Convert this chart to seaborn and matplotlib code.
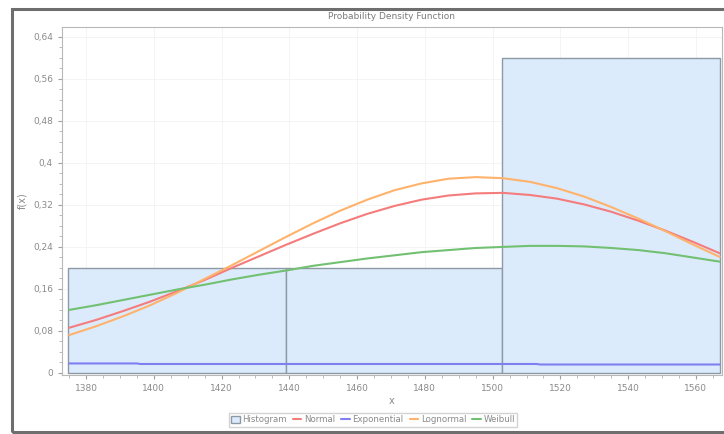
import matplotlib
matplotlib.use("Agg")
import matplotlib.pyplot as plt
from matplotlib.patches import Rectangle, Patch
from matplotlib.lines import Line2D
from matplotlib.ticker import MultipleLocator, FuncFormatter
import pandas as pd
import seaborn as sns

# histogram bins (edges) and bar heights
bin_edges = [1374.8, 1439.0, 1502.9, 1567.0]
bin_heights = [0.2, 0.2, 0.6]

# fitted density curves
x_pts = [1375, 1383, 1391, 1399, 1407, 1415, 1423, 1431, 1439, 1447, 1455, 1463, 1471,
         1479, 1487, 1495, 1503, 1511, 1519, 1527, 1535, 1543, 1551, 1559, 1567]
normal = [0.086, 0.101, 0.118, 0.136, 0.156, 0.177, 0.200, 0.222, 0.244, 0.265, 0.285,
          0.303, 0.318, 0.330, 0.338, 0.342, 0.343, 0.339, 0.332, 0.321, 0.307, 0.290,
          0.271, 0.250, 0.228]
lognormal = [0.072, 0.089, 0.108, 0.129, 0.153, 0.179, 0.205, 0.232, 0.259, 0.285, 0.309,
             0.330, 0.348, 0.361, 0.370, 0.373, 0.371, 0.364, 0.352, 0.336, 0.316, 0.294,
             0.270, 0.245, 0.221]
weibull = [0.120, 0.129, 0.139, 0.149, 0.159, 0.168, 0.178, 0.187, 0.195, 0.204, 0.211,
           0.218, 0.224, 0.230, 0.234, 0.238, 0.240, 0.242, 0.242, 0.241, 0.238, 0.234,
           0.228, 0.220, 0.212]
expo_x = [1375, 1395, 1396, 1513, 1514, 1567]
exponential = [0.018, 0.018, 0.017, 0.017, 0.016, 0.016]

colors = {"Normal": "#f47c7c", "Exponential": "#7f7ff2",
          "Lognormal": "#ffb26b", "Weibull": "#72c072"}

sns.set_style("white")
plt.rcParams["font.family"] = ["DejaVu Sans"]

fig = plt.figure(figsize=(7.24, 4.34), dpi=100)
ax = fig.add_axes([62 / 724, 1 - 375 / 434, 660 / 724, 348 / 434])

centers = [(a + b) / 2 for a, b in zip(bin_edges[:-1], bin_edges[1:])]
sns.histplot(x=centers, weights=bin_heights, bins=bin_edges, stat="count",
             color="#dcebfb", edgecolor="#8d99a4", linewidth=1.0, alpha=1.0, ax=ax)

rows = []
for name, vals in [("Normal", normal), ("Lognormal", lognormal), ("Weibull", weibull)]:
    rows += [(name, xv, yv) for xv, yv in zip(x_pts, vals)]
rows += [("Exponential", xv, yv) for xv, yv in zip(expo_x, exponential)]
df = pd.DataFrame(rows, columns=["dist", "x", "y"])
sns.lineplot(data=df, x="x", y="y", hue="dist", palette=colors,
             linewidth=1.5, legend=False, ax=ax, sort=True)

ax.set_xlim(1372.9, 1567.7)
ax.set_ylim(-0.004, 0.659)
ax.xaxis.set_major_locator(MultipleLocator(20))
ax.xaxis.set_minor_locator(MultipleLocator(5))
ax.yaxis.set_major_locator(MultipleLocator(0.08))
ax.yaxis.set_minor_locator(MultipleLocator(0.02))
ax.yaxis.set_major_formatter(FuncFormatter(lambda v, p: f"{v:g}".replace(".", ",")))
ax.tick_params(axis="both", which="major", labelsize=6.5, labelcolor="#8a8a8a",
               color="#a0a0a0", length=3, direction="out", bottom=True, left=True)
ax.tick_params(axis="both", which="minor", color="#b0b0b0", length=2,
               direction="out", bottom=True, left=True)
ax.grid(True, which="major", color="#f3f3f3", linewidth=0.6)
ax.set_axisbelow(True)
for s in ax.spines.values():
    s.set_color("#b8b8b8")
    s.set_linewidth(0.8)

ax.set_xlabel("x", fontsize=7, color="#8a8a8a", labelpad=2)
ax.set_ylabel("f(x)", fontsize=7, color="#8a8a8a")
ax.yaxis.set_label_coords(-0.053, 0.5)
ax.set_title("Probability Density Function", fontsize=6.5, color="#7a7a7a", pad=6)

handles = [Patch(facecolor="#dcebfb", edgecolor="#8d99a4", label="Histogram")]
handles += [Line2D([0], [0], color=colors[k], lw=1.5, label=k)
            for k in ["Normal", "Exponential", "Lognormal", "Weibull"]]
fig.legend(handles=handles, loc="center", bbox_to_anchor=(373 / 724, 1 - 420 / 434),
           ncol=5, fontsize=6.2, frameon=True, edgecolor="#c8c8c8", fancybox=False,
           handlelength=1.0, handletextpad=0.3, columnspacing=0.7,
           borderpad=0.25, labelcolor="#8a8a8a")

# document frame around the chart
fig.patches.append(Rectangle((11.5 / 724, 1 - 432 / 434), 720 / 724, 423 / 434,
                             transform=fig.transFigure, fill=False,
                             edgecolor="#6e6e6e", linewidth=2.2))

fig.savefig("out.png", dpi=100)
